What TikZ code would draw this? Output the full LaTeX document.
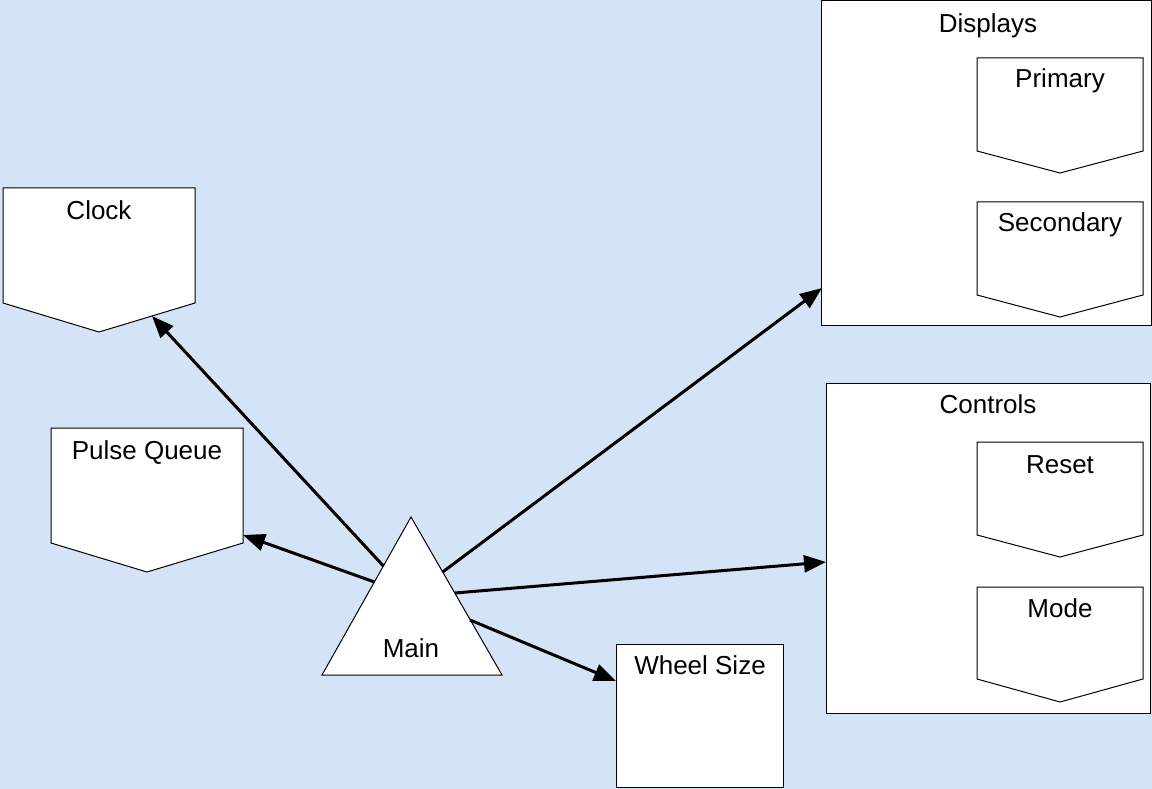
\documentclass[tikz,border=0pt]{standalone}
\usepackage{fontspec}
\setmainfont{Liberation Sans}
\usetikzlibrary{arrows.meta}
\definecolor{bgblue}{RGB}{213,227,247}
\tikzset{
  box/.style={draw=black, fill=white, line width=1pt},
  lbl/.style={anchor=base, inner sep=0pt, font=\fontsize{26}{31}\selectfont},
  arr/.style={line width=3pt, -{Triangle[length=22pt,width=17pt]}},
}
\begin{document}
\begin{tikzpicture}[x=1pt,y=-1pt]
\fill[bgblue] (0,0) rectangle (1152,789);
\useasboundingbox (0,0) rectangle (1152,789);

% Clock
\draw[box] (3,188) -- (195,188) -- (195,303) -- (99,332) -- (3,303) -- cycle;
\node[lbl] (clock) at (99,219) {Clock};
% Pulse Queue
\draw[box] (51,428) -- (243,428) -- (243,543) -- (147,572) -- (51,543) -- cycle;
\node[lbl] (pulse) at (147,459) {Pulse Queue};
% Main
\draw[box] (411,517) -- (502,675) -- (322,675) -- cycle;
\node[lbl] (main) at (411,657) {Main};
% Wheel Size
\draw[box] (616,644) rectangle (783,787);
\node[lbl] (wheel) at (700,674) {Wheel Size};
% Displays
\draw[box] (821,1) rectangle (1151,325);
\node[lbl] (displays) at (988,33) {Displays};
\draw[box] (977,58) -- (1143,58) -- (1143,151) -- (1060,173) -- (977,151) -- cycle;
\node[lbl] (primary) at (1060,88) {Primary};
\draw[box] (977,202) -- (1143,202) -- (1143,295) -- (1060,317) -- (977,295) -- cycle;
\node[lbl] (secondary) at (1060,232) {Secondary};
% Controls
\draw[box] (826,383) rectangle (1150,713);
\node[lbl] (controls) at (988,413) {Controls};
\draw[box] (977,442) -- (1143,442) -- (1143,535) -- (1060,557) -- (977,535) -- cycle;
\node[lbl] (reset) at (1060,473) {Reset};
\draw[box] (977,587) -- (1143,587) -- (1143,679) -- (1060,702) -- (977,679) -- cycle;
\node[lbl] (mode) at (1060,617) {Mode};

% connector end points
\coordinate (mClock) at (383.4,566);
\coordinate (mPulse) at (374.4,582);
\coordinate (mDisp) at (442.7,572);
\coordinate (mCtrl) at (454.8,593);
\coordinate (mWheel) at (470,620);
\coordinate (inClock) at (152,316);
\coordinate (inPulse) at (243,535);
\coordinate (inDisp) at (822,288);
\coordinate (inCtrl) at (826,562);
\coordinate (inWheel) at (616,681);

\draw[arr] (mClock) -- (inClock);
\draw[arr] (mPulse) -- (inPulse);
\draw[arr] (mDisp) -- (inDisp);
\draw[arr] (mCtrl) -- (inCtrl);
\draw[arr] (mWheel) -- (inWheel);
\end{tikzpicture}
\end{document}
